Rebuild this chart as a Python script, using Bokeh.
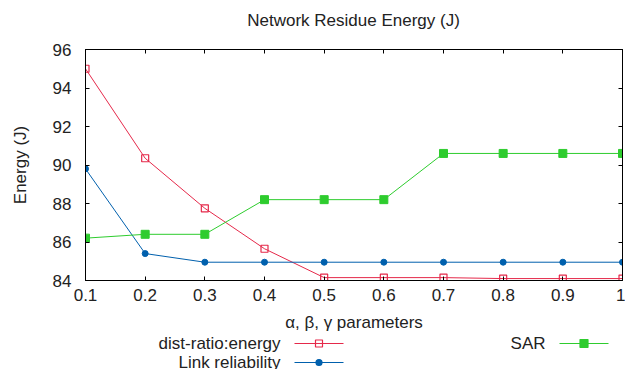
from bokeh.plotting import figure
from bokeh.layouts import column
from bokeh.models import FixedTicker, LinearAxis
from bokeh.core.properties import value
from bokeh.embed import file_html
from bokeh.resources import INLINE

params = [0.1, 0.2, 0.3, 0.4, 0.5, 0.6, 0.7, 0.8, 0.9, 1.0]
x_tick_labels = ["0.1", "0.2", "0.3", "0.4", "0.5", "0.6", "0.7", "0.8", "0.9", "1"]
y_ticks = [84, 86, 88, 90, 92, 94, 96]
dist_ratio_energy = [95.0, 90.35, 87.75, 85.65, 84.15, 84.15, 84.15, 84.1, 84.1, 84.1]
link_reliability = [89.8, 85.4, 84.95, 84.95, 84.95, 84.95, 84.95, 84.95, 84.95, 84.95]
sar = [86.2, 86.4, 86.4, 88.2, 88.2, 88.2, 90.6, 90.6, 90.6, 90.6]
series_names = ["dist-ratio:energy", "Link reliability", "SAR"]
title_text = "Network Residue Energy (J)"

RED = "#e5294a"
BLUE = "#0060ad"
GREEN = "#2ecc2e"
FONT = "Liberation Sans"
TXT = "#222222"
FS = "17px"


def strip(height):
    # helper panel whose frame is aligned with the main frame by the column
    # layout, so its x range is expressed in canvas pixels
    f = figure(width=625, height=height, x_range=(85, 622), y_range=(0, height),
               title=None, output_backend="svg", toolbar_location=None,
               x_axis_location=None, y_axis_location=None,
               min_border_left=85, min_border_right=3, min_border_top=0,
               min_border_bottom=0, outline_line_color=None)
    f.xgrid.visible = False
    f.ygrid.visible = False
    return f


# title panel
tp = strip(36)
tp.text(x=[353], y=[16], text=[title_text], text_align="center",
        text_baseline="middle", text_font=value(FONT), text_font_size=FS,
        text_color=TXT)

p = figure(width=625, height=298, x_range=(0.1, 1.0), y_range=(84, 96),
           title=None, output_backend="svg", toolbar_location=None,
           min_border_left=85, min_border_right=3, min_border_top=13,
           min_border_bottom=53)
p.xgrid.visible = False
p.ygrid.visible = False
p.outline_line_color = "black"
p.outline_line_width = 1
p.background_fill_color = "white"

for ax in (p.xaxis[0], p.yaxis[0]):
    ax.major_tick_in = 4
    ax.major_tick_out = 0
    ax.minor_tick_in = 0
    ax.minor_tick_out = 0
    ax.axis_line_color = "black"
    ax.major_tick_line_color = "black"
    ax.major_label_text_font = FONT
    ax.major_label_text_font_size = FS
    ax.major_label_text_color = TXT
    ax.axis_label_text_font = FONT
    ax.axis_label_text_font_size = FS
    ax.axis_label_text_font_style = "normal"
    ax.axis_label_text_color = TXT

p.xaxis[0].ticker = FixedTicker(ticks=params)
p.xaxis[0].major_label_overrides = {t: l for t, l in zip(params, x_tick_labels)}
p.xaxis[0].major_label_standoff = 8
p.xaxis[0].axis_label = "α, β, γ parameters"
p.xaxis[0].axis_label_standoff = 9
p.yaxis[0].ticker = FixedTicker(ticks=y_ticks)
p.yaxis[0].major_label_standoff = 14
p.yaxis[0].axis_label = "Energy (J)"
p.yaxis[0].axis_label_standoff = 20

for loc in ("right", "above"):
    ax = LinearAxis(ticker=FixedTicker(ticks=params if loc == "above" else y_ticks),
                    major_tick_in=4, major_tick_out=0, minor_tick_in=0, minor_tick_out=0,
                    major_label_text_font_size="0px", major_label_standoff=0,
                    axis_line_color="black")
    p.add_layout(ax, loc)

p.line(params, dist_ratio_energy, color=RED, line_width=1)
p.scatter(params, dist_ratio_energy, marker="square", size=7, fill_color=None,
          line_color=RED, line_width=1.2)
p.line(params, link_reliability, color=BLUE, line_width=1)
p.scatter(params, link_reliability, marker="circle", size=6, fill_color=BLUE,
          line_color=BLUE)
p.line(params, sar, color=GREEN, line_width=1)
p.scatter(params, sar, marker="square", size=8, fill_color=GREEN, line_color=GREEN)

# legend panel (gnuplot style: label then sample)
lg = strip(35)
entries = [
    (series_names[0], RED, "square", 7, None, 280, 294, 343, 26),
    (series_names[1], BLUE, "circle", 6, BLUE, 280, 294, 343, 7),
    (series_names[2], GREEN, "square", 8, GREEN, 545, 559, 608, 26),
]
for name, col, mk, sz, fill, tx, x0, x1, yy in entries:
    lg.text(x=[tx], y=[yy], text=[name], text_align="right", text_baseline="middle",
            text_font=value(FONT), text_font_size=FS, text_color=TXT)
    lg.line([x0, x1], [yy, yy], color=col, line_width=1)
    lg.scatter([(x0 + x1) / 2], [yy], marker=mk, size=sz, fill_color=fill,
               line_color=col, line_width=1.2)

layout = column(tp, p, lg, spacing=0)
open("out.html", "w").write(file_html(layout, INLINE))
